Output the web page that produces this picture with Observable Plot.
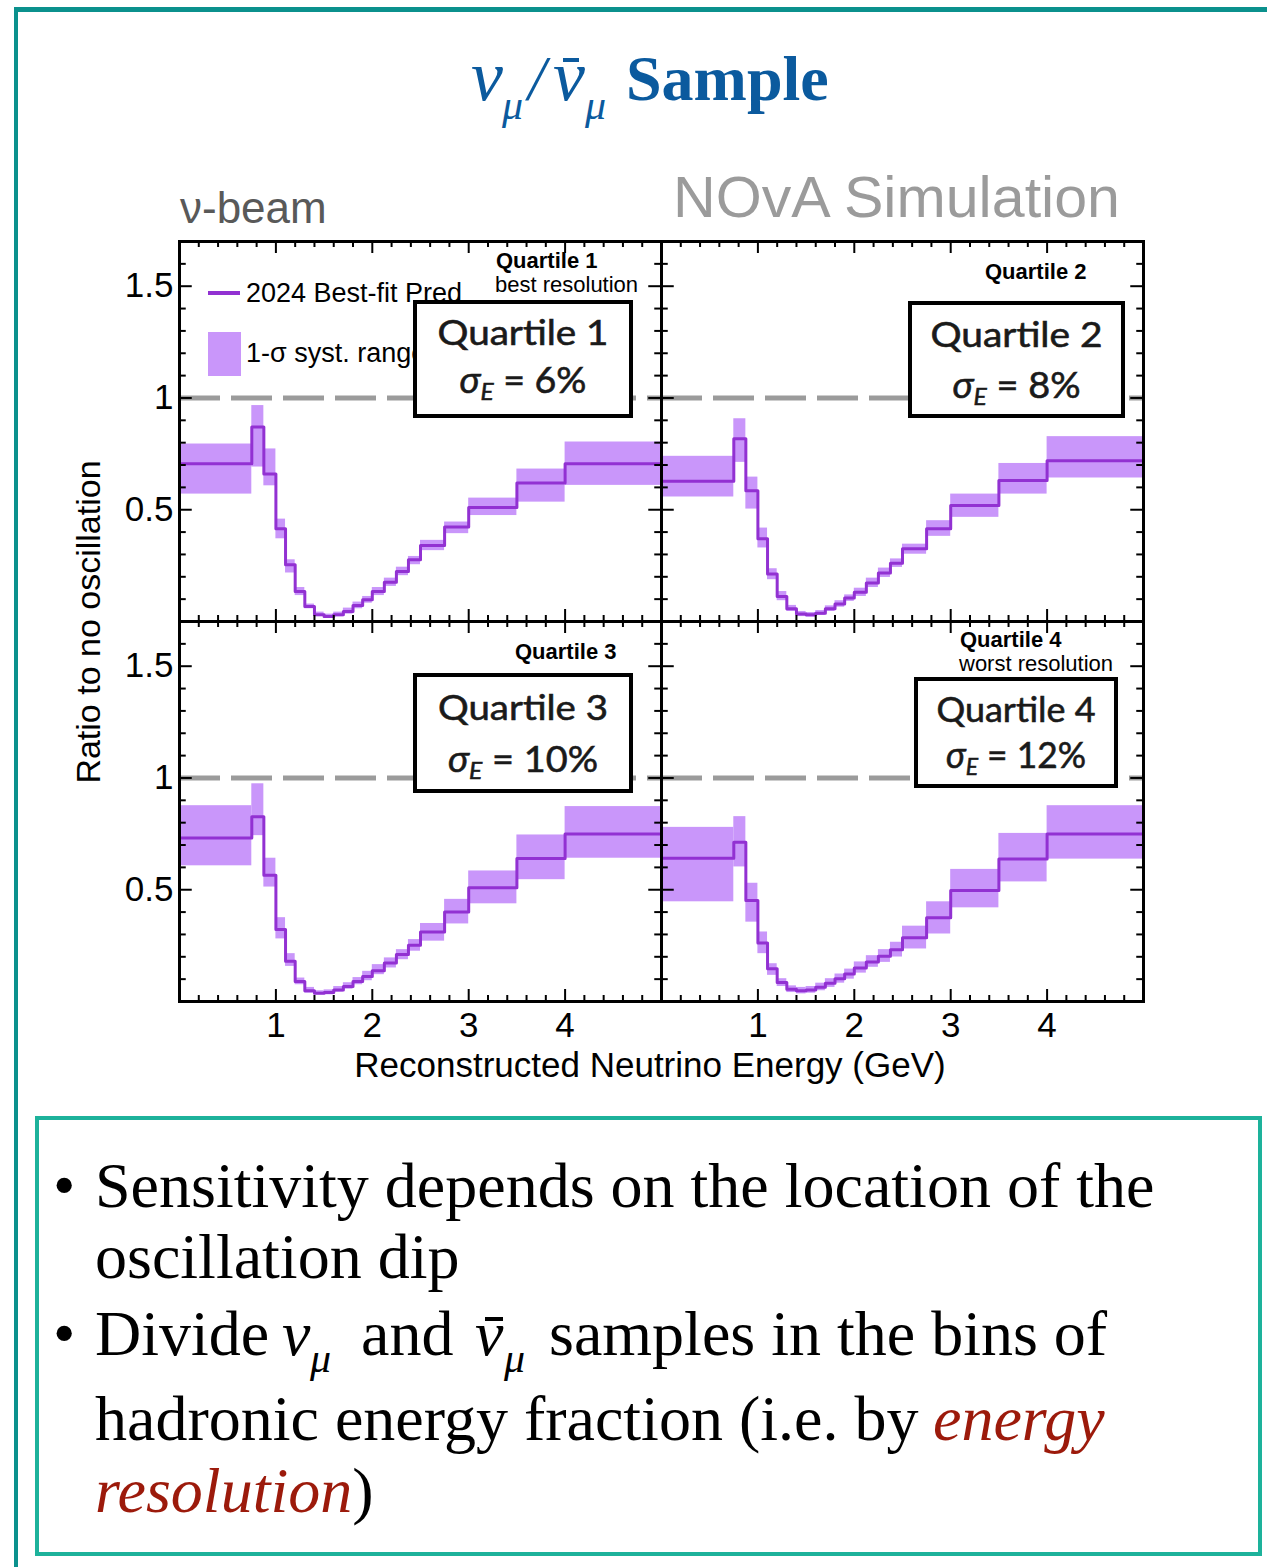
<!DOCTYPE html>
<html>
<head>
<meta charset="utf-8">
<script src="https://cdn.jsdelivr.net/npm/d3@7"></script>
<script src="https://cdn.jsdelivr.net/npm/@observablehq/plot@0.6"></script>
<style>
  html, body { margin: 0; padding: 0; background: #fff; }
  #page { position: relative; width: 1267px; height: 1567px; overflow: hidden; background: #fff; }
  #chart { position: absolute; left: 0; top: 230px; }
  #overlay { position: absolute; left: 0; top: 0; }
</style>
</head>
<body>
<div id="page"><div id="chart"></div></div>
<script>
// ---------------- data ----------------
const edges = [0, 0.75, 0.875, 1.0, 1.1, 1.2, 1.3, 1.4, 1.5, 1.6, 1.7, 1.8, 1.9, 2.0, 2.125, 2.25, 2.375, 2.5, 2.75, 3.0, 3.5, 4.0, 5.0];

const q1Val = [0.706, 0.870, 0.660, 0.415, 0.254, 0.134, 0.067, 0.030, 0.022, 0.030, 0.045, 0.072, 0.097, 0.134, 0.176, 0.224, 0.276, 0.340, 0.423, 0.510, 0.620, 0.706];
const q1Hi  = [0.794, 0.966, 0.772, 0.458, 0.276, 0.152, 0.078, 0.042, 0.033, 0.042, 0.060, 0.087, 0.112, 0.152, 0.194, 0.243, 0.291, 0.363, 0.445, 0.552, 0.682, 0.803];
const q1Lo  = [0.570, 0.691, 0.607, 0.370, 0.217, 0.116, 0.057, 0.022, 0.015, 0.021, 0.033, 0.057, 0.082, 0.116, 0.157, 0.205, 0.254, 0.317, 0.393, 0.474, 0.534, 0.609];

const q2Val = [0.627, 0.818, 0.585, 0.370, 0.212, 0.112, 0.057, 0.033, 0.030, 0.037, 0.057, 0.078, 0.105, 0.131, 0.172, 0.217, 0.261, 0.325, 0.415, 0.519, 0.631, 0.719];
const q2Hi  = [0.739, 0.907, 0.646, 0.418, 0.236, 0.134, 0.072, 0.045, 0.040, 0.049, 0.070, 0.093, 0.119, 0.149, 0.194, 0.239, 0.280, 0.346, 0.451, 0.570, 0.707, 0.827];
const q2Lo  = [0.557, 0.712, 0.503, 0.329, 0.187, 0.093, 0.045, 0.022, 0.019, 0.027, 0.045, 0.064, 0.090, 0.112, 0.152, 0.197, 0.242, 0.301, 0.381, 0.466, 0.570, 0.642];

const q3Val = [0.731, 0.827, 0.565, 0.322, 0.180, 0.090, 0.048, 0.037, 0.040, 0.052, 0.067, 0.090, 0.112, 0.138, 0.172, 0.210, 0.252, 0.311, 0.400, 0.509, 0.640, 0.749];
const q3Hi  = [0.876, 0.974, 0.641, 0.375, 0.214, 0.105, 0.063, 0.048, 0.052, 0.067, 0.084, 0.107, 0.135, 0.165, 0.195, 0.232, 0.277, 0.349, 0.457, 0.584, 0.745, 0.872];
const q3Lo  = [0.607, 0.742, 0.512, 0.280, 0.157, 0.075, 0.037, 0.030, 0.030, 0.042, 0.055, 0.075, 0.093, 0.120, 0.150, 0.187, 0.225, 0.270, 0.347, 0.437, 0.545, 0.641];

const q4Val = [0.641, 0.712, 0.452, 0.262, 0.147, 0.085, 0.055, 0.048, 0.052, 0.064, 0.082, 0.102, 0.123, 0.150, 0.177, 0.202, 0.232, 0.285, 0.375, 0.497, 0.637, 0.749];
const q4Hi  = [0.779, 0.827, 0.529, 0.311, 0.169, 0.102, 0.070, 0.063, 0.067, 0.082, 0.102, 0.123, 0.145, 0.177, 0.205, 0.232, 0.265, 0.337, 0.446, 0.591, 0.752, 0.876];
const q4Lo  = [0.446, 0.602, 0.355, 0.214, 0.117, 0.067, 0.040, 0.034, 0.037, 0.048, 0.063, 0.082, 0.100, 0.127, 0.153, 0.175, 0.199, 0.235, 0.302, 0.419, 0.535, 0.637];

const quartileNames = ["Quartile 1", "Quartile 2", "Quartile 3", "Quartile 4"];
const resolutions = ["6%", "8%", "10%", "12%"];
const panelCols = ["L", "R", "L", "R"];
const panelRows = ["T", "T", "B", "B"];

const xTickLabels = [1, 2, 3, 4];
const xMinorTicks = [0.2, 0.4, 0.6, 0.8, 1.2, 1.4, 1.6, 1.8, 2.2, 2.4, 2.6, 2.8, 3.2, 3.4, 3.6, 3.8, 4.2, 4.4, 4.6, 4.8];
const yTickLabels = [0.5, 1, 1.5];
const yMinorTicks = [0.1, 0.2, 0.3, 0.4, 0.6, 0.7, 0.8, 0.9, 1.1, 1.2, 1.3, 1.4, 1.6];
const noOscRatio = [1];

const titleText = "Sample";
const beamText = "ν-beam";
const simText = "NOvA Simulation";
const yLabel = "Ratio to no oscillation";
const xLabel = "Reconstructed Neutrino Energy (GeV)";
const legendLine = "2024 Best-fit Pred";
const legendBand = "1-σ syst. range";

// ---------------- build tables ----------------
const series = [[q1Val, q1Lo, q1Hi], [q2Val, q2Lo, q2Hi], [q3Val, q3Lo, q3Hi], [q4Val, q4Lo, q4Hi]];
const bins = [], pts = [];
series.forEach(([v, lo, hi], qi) => {
  const col = panelCols[qi], row = panelRows[qi], q = quartileNames[qi];
  v.forEach((val, i) => {
    bins.push({q, col, row, x1: edges[i], x2: edges[i + 1], lo: lo[i], hi: hi[i]});
    pts.push({q, col, row, x: edges[i], v: val});
  });
  pts.push({q, col, row, x: edges[edges.length - 1], v: v[v.length - 1]});
});

// ---------------- styling ----------------
const BAND = "#c996fa";
const LINE = "#9231d2";
const W = 1267, ML = 178.5, MR = 124, MT = 11, FH = 380, MB = 50;
const H = MT + 2 * FH + MB;
const FW = (W - ML - MR) / 2;
const tk = {stroke: "#000", strokeWidth: 2};

const chart = Plot.plot({
  width: W, height: H,
  marginLeft: ML, marginRight: MR, marginTop: MT, marginBottom: MB,
  style: {fontFamily: "'Liberation Sans', Arial, sans-serif", color: "#000", background: "transparent", overflow: "visible"},
  x: {domain: [0, 5]},
  y: {domain: [0, 1.7]},
  fx: {domain: ["L", "R"], padding: 0, axis: null},
  fy: {domain: ["T", "B"], padding: 0, axis: null},
  marks: [
    Plot.rect(bins, {fx: "col", fy: "row", x1: "x1", x2: "x2", y1: "lo", y2: "hi", fill: BAND}),
    Plot.line(pts, {fx: "col", fy: "row", x: "x", y: "v", z: "q", curve: "step-after", stroke: LINE, strokeWidth: 3}),
    Plot.ruleY(noOscRatio, {stroke: "#9b9b9b", strokeWidth: 5, strokeDasharray: "41,11"}),
    // inward ticks, bottom & top
    Plot.tickX(xMinorTicks, {x: d => d, insetTop: FH - 6, ...tk}),
    Plot.tickX(xTickLabels, {x: d => d, insetTop: FH - 12, ...tk}),
    Plot.tickX(xMinorTicks, {x: d => d, insetBottom: FH - 6, ...tk}),
    Plot.tickX(xTickLabels, {x: d => d, insetBottom: FH - 12, ...tk}),
    // inward ticks, left & right
    Plot.tickY(yMinorTicks, {y: d => d, insetRight: FW - 7, ...tk}),
    Plot.tickY(yTickLabels, {y: d => d, insetRight: FW - 13, ...tk}),
    Plot.tickY(yMinorTicks, {y: d => d, insetLeft: FW - 7, ...tk}),
    Plot.tickY(yTickLabels, {y: d => d, insetLeft: FW - 13, ...tk}),
    Plot.frame({stroke: "#000", strokeWidth: 3}),
    Plot.axisX(xTickLabels, {tickSize: 0, tickPadding: 11, fontSize: 35, label: null}),
    Plot.axisY(yTickLabels, {tickSize: 0, tickPadding: 6, fontSize: 35, label: null, tickFormat: d => String(d)})
  ]
});
document.getElementById("chart").appendChild(chart);

// ---------------- overlay (titles, legend, annotations, text box) ----------------
const svg = d3.select("#page").append("svg").attr("id", "overlay")
  .attr("width", 1267).attr("height", 1567).style("pointer-events", "none");

// slide frame
svg.append("rect").attr("x", 14).attr("y", 7).attr("width", 1260).attr("height", 5).attr("fill", "#0b918d");
svg.append("rect").attr("x", 14).attr("y", 7).attr("width", 4).attr("height", 1570).attr("fill", "#0b918d");

const SERIF = "'Liberation Serif', 'Times New Roman', serif";
const SANS = "'Liberation Sans', Arial, sans-serif";
const BOXF = "Lato, 'Open Sans', sans-serif";
const TITLE_C = "#0b5a9e";

// title
const title = svg.append("text").attr("y", 100).attr("fill", TITLE_C).attr("font-family", SERIF);
title.append("tspan").attr("x", 471).attr("font-size", 72).attr("font-style", "italic").text("ν");
title.append("tspan").attr("x", 502).attr("dy", 19).attr("font-size", 42).attr("font-style", "italic").text("μ");
title.append("tspan").attr("x", 528).attr("dy", -19).attr("font-size", 64).attr("font-style", "italic").text("/");
title.append("tspan").attr("x", 553).attr("font-size", 72).attr("font-style", "italic").text("ν");
title.append("tspan").attr("x", 585).attr("dy", 19).attr("font-size", 42).attr("font-style", "italic").text("μ");
title.append("tspan").attr("x", 626).attr("dy", -19).attr("font-size", 64).attr("font-weight", "bold").text(titleText);
// bar over the second ν (anti-neutrino)
svg.append("rect").attr("x", 563).attr("y", 58).attr("width", 16).attr("height", 4).attr("fill", TITLE_C);

svg.append("text").attr("x", 180).attr("y", 223).attr("font-family", SANS).attr("font-size", 44)
  .attr("fill", "#595959").text(beamText);
svg.append("text").attr("x", 673).attr("y", 217).attr("font-family", SANS).attr("font-size", 58)
  .attr("fill", "#9b9b9b").attr("textLength", 447).attr("lengthAdjust", "spacingAndGlyphs").text(simText);

// axis titles
svg.append("text").attr("transform", "translate(100,622) rotate(-90)").attr("text-anchor", "middle")
  .attr("font-family", SANS).attr("font-size", 34).attr("fill", "#000").text(yLabel);
svg.append("text").attr("x", 650).attr("y", 1077).attr("text-anchor", "middle")
  .attr("font-family", SANS).attr("font-size", 35).attr("fill", "#000").text(xLabel);

// legend (panel 1)
svg.append("rect").attr("x", 208).attr("y", 291).attr("width", 32).attr("height", 4).attr("fill", LINE);
svg.append("text").attr("x", 246).attr("y", 302).attr("font-family", SANS).attr("font-size", 27).attr("fill", "#000").text(legendLine);
svg.append("rect").attr("x", 208).attr("y", 332).attr("width", 33).attr("height", 44).attr("fill", BAND);
svg.append("text").attr("x", 246).attr("y", 362).attr("font-family", SANS).attr("font-size", 27).attr("fill", "#000").text(legendBand);

// small corner labels
const small = [
  {x: 496, y: 268, t: quartileNames[0], b: true}, {x: 495, y: 292, t: "best resolution", b: false},
  {x: 985, y: 279, t: quartileNames[1], b: true},
  {x: 515, y: 659, t: quartileNames[2], b: true},
  {x: 960, y: 647, t: quartileNames[3], b: true}, {x: 959, y: 671, t: "worst resolution", b: false}
];
small.forEach(s => svg.append("text").attr("x", s.x).attr("y", s.y).attr("font-family", SANS)
  .attr("font-size", 22).attr("font-weight", s.b ? "bold" : "normal").attr("fill", "#000").text(s.t));

// boxed quartile labels
const boxes = [
  {x0: 413, x1: 633, y0: 300, y1: 418, b1: 345, b2: 393, w1: 171, w2: 127},
  {x0: 908, x1: 1125, y0: 301, y1: 418, b1: 347, b2: 398, w1: 172, w2: 128},
  {x0: 413, x1: 633, y0: 673, y1: 793, b1: 720, b2: 772, w1: 170, w2: 150},
  {x0: 914, x1: 1118, y0: 677, y1: 788, b1: 722, b2: 768, w1: 159, w2: 140}
];
boxes.forEach((bx, i) => {
  svg.append("rect").attr("x", bx.x0 + 2).attr("y", bx.y0 + 2).attr("width", bx.x1 - bx.x0 - 4).attr("height", bx.y1 - bx.y0 - 4)
    .attr("fill", "#fff").attr("stroke", "#000").attr("stroke-width", 4);
  const cx = (bx.x0 + bx.x1) / 2;
  svg.append("text").attr("x", cx).attr("y", bx.b1).attr("text-anchor", "middle").attr("font-family", BOXF)
    .attr("font-size", 35).attr("fill", "#1a1a1a").attr("stroke", "#1a1a1a").attr("stroke-width", 0.6)
    .attr("textLength", bx.w1).attr("lengthAdjust", "spacingAndGlyphs")
    .text(quartileNames[i]);
  const t2 = svg.append("text").attr("x", cx).attr("y", bx.b2).attr("text-anchor", "middle").attr("font-family", BOXF)
    .attr("font-size", 37).attr("fill", "#1a1a1a").attr("stroke", "#1a1a1a").attr("stroke-width", 0.6)
    .attr("textLength", bx.w2).attr("lengthAdjust", "spacingAndGlyphs");
  t2.append("tspan").attr("font-style", "italic").text("σ");
  t2.append("tspan").attr("font-style", "italic").attr("font-size", 24).attr("dy", 7).text("E");
  t2.append("tspan").attr("dy", -7).text(" = " + resolutions[i]);
});

// bullet text box
svg.append("rect").attr("x", 37).attr("y", 1118).attr("width", 1223).attr("height", 436)
  .attr("fill", "none").attr("stroke", "#1db29b").attr("stroke-width", 4);
const tb = svg.append("g").attr("font-family", SERIF).attr("font-size", 64).attr("fill", "#000");
const RED = "#9c1a0b";
tb.append("text").attr("x", 53).attr("y", 1207).text("•");
tb.append("text").attr("x", 95).attr("y", 1207).text("Sensitivity depends on the location of the");
tb.append("text").attr("x", 95).attr("y", 1278).text("oscillation dip");
tb.append("text").attr("x", 53).attr("y", 1355).text("•");
const l3 = tb.append("text").attr("y", 1355);
l3.append("tspan").attr("x", 95).text("Divide");
l3.append("tspan").attr("x", 282).attr("font-style", "italic").text("ν");
l3.append("tspan").attr("x", 310).attr("dy", 17).attr("font-size", 42).attr("font-style", "italic").text("μ");
l3.append("tspan").attr("x", 361).attr("dy", -17).text("and");
l3.append("tspan").attr("x", 475).attr("font-style", "italic").text("ν");
l3.append("tspan").attr("x", 504).attr("dy", 17).attr("font-size", 42).attr("font-style", "italic").text("μ");
l3.append("tspan").attr("x", 549).attr("dy", -17).text("samples in the bins of");
// bar over the anti-neutrino symbol
tb.append("rect").attr("x", 485).attr("y", 1317).attr("width", 18).attr("height", 4).attr("fill", "#000");
const l4 = tb.append("text").attr("y", 1440);
l4.append("tspan").attr("x", 95).text("hadronic energy fraction (i.e. by ");
l4.append("tspan").attr("x", 933).attr("font-style", "italic").attr("fill", RED).text("energy");
const l5 = tb.append("text").attr("x", 95).attr("y", 1512);
l5.append("tspan").attr("font-style", "italic").attr("fill", RED).text("resolution");
l5.append("tspan").text(")");
</script>
</body>
</html>
